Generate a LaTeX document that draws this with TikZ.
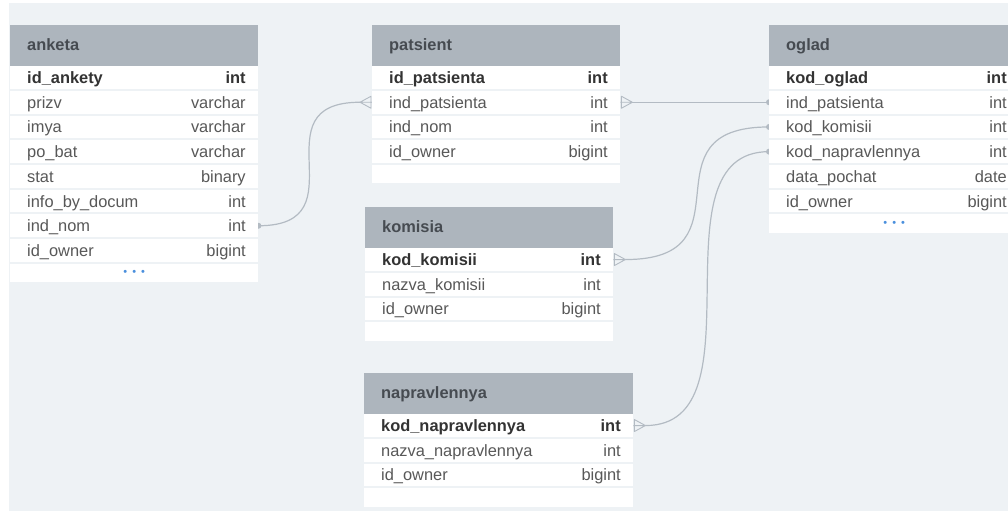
\documentclass[tikz,border=0pt]{standalone}
\usepackage{fontspec}
\setmainfont{Liberation Sans}
\usetikzlibrary{positioning}

\definecolor{canvas}{HTML}{EEF2F5}
\definecolor{hdrgrey}{HTML}{ADB5BD}
\definecolor{hdrtext}{HTML}{464B51}
\definecolor{keytext}{HTML}{333333}
\definecolor{coltext}{HTML}{585858}
\definecolor{wire}{HTML}{B3BBC3}
\definecolor{more}{HTML}{4A8FDD}

\newcommand\rowfont{\fontsize{16.4}{19}\selectfont}

\pgfdeclarelayer{back}
\pgfdeclarelayer{wires}
\pgfsetlayers{back,wires,main}

\tikzset{
  tblhead/.style={anchor=north west, fill=hdrgrey, minimum height=41pt, inner xsep=17pt, inner ysep=0pt,
    text height=12pt, text depth=3pt, align=left, text=hdrtext, font=\rowfont\bfseries},
  tblrow/.style={anchor=north west, fill=white, minimum height=22.7pt, inner sep=0pt},
  lastrow/.style={tblrow, minimum height=18.4pt},
  colname/.style={anchor=west, xshift=17pt, inner sep=0pt, text height=12pt, text depth=0pt, text=coltext, font=\rowfont},
  keyname/.style={colname, text=keytext, font=\rowfont\bfseries},
  coltype/.style={anchor=east, xshift=-12.5pt, inner sep=0pt, text height=12pt, text depth=0pt, text=coltext, font=\rowfont},
  keytype/.style={coltype, text=keytext, font=\rowfont\bfseries},
  moredots/.style={inner sep=0pt, text=more, font=\fontsize{11}{11}\selectfont},
  wireline/.style={draw=wire, line width=1.2pt},
  footline/.style={draw=wire, line width=0.9pt, line join=round},
}

\begin{document}
\begin{tikzpicture}[x=1pt, y=-1pt]
    \useasboundingbox (0,0) rectangle (1008,513);
    \begin{pgfonlayer}{back}
        \fill[canvas] (9,3) rectangle (1008,511);
    \end{pgfonlayer}

    % anketa
    \node[tblhead, text width=214pt] (anketa) at (10,25) {anketa};
    \node[tblrow, minimum width=248pt] (an-1) at (10,66) {};
    \node[keyname] at (an-1.west) {id\_ankety};
    \node[keytype] at (an-1.east) {int};
    \foreach \n/\t [count=\i from 2] in {prizv/varchar, imya/varchar, po\_bat/varchar, stat/binary,
        info\_by\_docum/int, ind\_nom/int, id\_owner/bigint} {
        \node[tblrow, minimum width=248pt] (an-\i) at (10,{66+24.7*(\i-1)}) {};
        \node[colname] at (an-\i.west) {\n};
        \node[coltype] at (an-\i.east) {\t};
    }
    \node[lastrow, minimum width=248pt] (an-9) at (10,{66+24.7*8}) {};
    \node[moredots] at (an-9.center) {•\hspace{5pt}•\hspace{5pt}•};

    % patsient
    \node[tblhead, text width=214pt] (patsient) at (372,25) {patsient};
    \node[tblrow, minimum width=248pt] (pa-1) at (372,66) {};
    \node[keyname] at (pa-1.west) {id\_patsienta};
    \node[keytype] at (pa-1.east) {int};
    \foreach \n/\t [count=\i from 2] in {ind\_patsienta/int, ind\_nom/int, id\_owner/bigint} {
        \node[tblrow, minimum width=248pt] (pa-\i) at (372,{66+24.7*(\i-1)}) {};
        \node[colname] at (pa-\i.west) {\n};
        \node[coltype] at (pa-\i.east) {\t};
    }
    \node[lastrow, minimum width=248pt] (pa-5) at (372,{66+24.7*4}) {};

    % komisia
    \node[tblhead, text width=214pt] (komisia) at (365,207) {komisia};
    \node[tblrow, minimum width=248pt] (ko-1) at (365,248) {};
    \node[keyname] at (ko-1.west) {kod\_komisii};
    \node[keytype] at (ko-1.east) {int};
    \foreach \n/\t [count=\i from 2] in {nazva\_komisii/int, id\_owner/bigint} {
        \node[tblrow, minimum width=248pt] (ko-\i) at (365,{248+24.7*(\i-1)}) {};
        \node[colname] at (ko-\i.west) {\n};
        \node[coltype] at (ko-\i.east) {\t};
    }
    \node[lastrow, minimum width=248pt] (ko-4) at (365,{248+24.7*3}) {};

    % napravlennya
    \node[tblhead, text width=235pt] (napravlennya) at (364,373) {napravlennya};
    \node[tblrow, minimum width=269pt] (na-1) at (364,414) {};
    \node[keyname] at (na-1.west) {kod\_napravlennya};
    \node[keytype] at (na-1.east) {int};
    \foreach \n/\t [count=\i from 2] in {nazva\_napravlennya/int, id\_owner/bigint} {
        \node[tblrow, minimum width=269pt] (na-\i) at (364,{414+24.7*(\i-1)}) {};
        \node[colname] at (na-\i.west) {\n};
        \node[coltype] at (na-\i.east) {\t};
    }
    \node[lastrow, minimum width=269pt] (na-4) at (364,{414+24.7*3}) {};

    % oglad
    \node[tblhead, text width=216pt] (oglad) at (769,25) {oglad};
    \node[tblrow, minimum width=250pt] (og-1) at (769,66) {};
    \node[keyname] at (og-1.west) {kod\_oglad};
    \node[keytype] at (og-1.east) {int};
    \foreach \n/\t [count=\i from 2] in {ind\_patsienta/int, kod\_komisii/int, kod\_napravlennya/int,
        data\_pochat/date, id\_owner/bigint} {
        \node[tblrow, minimum width=250pt] (og-\i) at (769,{66+24.7*(\i-1)}) {};
        \node[colname] at (og-\i.west) {\n};
        \node[coltype] at (og-\i.east) {\t};
    }
    \node[lastrow, minimum width=250pt] (og-7) at (769,{66+24.7*6}) {};
    \node[moredots] at (og-7.center) {•\hspace{5pt}•\hspace{5pt}•};

    % relations
    \begin{pgfonlayer}{wires}
        \fill[wire] (an-7.east) circle (3pt);
        \draw[wireline] (an-7.east) .. controls +(105,0) and +(-105,0) .. ([xshift=-12pt]pa-2.west);
        \draw[footline] ([xshift=-12pt]pa-2.west) -- ([xshift=-1pt,yshift=6pt]pa-2.west)
            -- ([xshift=-1pt,yshift=-6pt]pa-2.west) -- cycle ([xshift=-12pt]pa-2.west) -- (pa-2.west);

        \fill[wire] (og-2.west) circle (3pt);
        \draw[wireline] ([xshift=12pt]pa-2.east) -- (og-2.west);
        \draw[footline] ([xshift=12pt]pa-2.east) -- ([xshift=1pt,yshift=6pt]pa-2.east)
            -- ([xshift=1pt,yshift=-6pt]pa-2.east) -- cycle ([xshift=12pt]pa-2.east) -- (pa-2.east);

        \fill[wire] (og-3.west) circle (3pt);
        \draw[wireline] ([xshift=12pt]ko-1.east) .. controls +(130,0) and +(-130,0) .. (og-3.west);
        \draw[footline] ([xshift=12pt]ko-1.east) -- ([xshift=1pt,yshift=6pt]ko-1.east)
            -- ([xshift=1pt,yshift=-6pt]ko-1.east) -- cycle ([xshift=12pt]ko-1.east) -- (ko-1.east);

        \fill[wire] (og-4.west) circle (3pt);
        \draw[wireline] ([xshift=12pt]na-1.east) .. controls +(120,0) and +(-120,0) .. (og-4.west);
        \draw[footline] ([xshift=12pt]na-1.east) -- ([xshift=1pt,yshift=6pt]na-1.east)
            -- ([xshift=1pt,yshift=-6pt]na-1.east) -- cycle ([xshift=12pt]na-1.east) -- (na-1.east);
    \end{pgfonlayer}
\end{tikzpicture}
\end{document}
